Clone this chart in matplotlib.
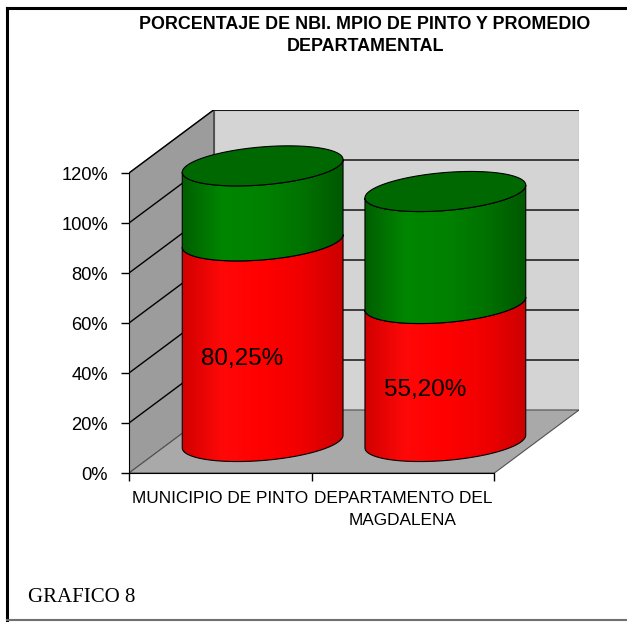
import numpy as np
import matplotlib
matplotlib.use("Agg")
import matplotlib.pyplot as plt
from matplotlib import font_manager
from matplotlib.patches import Polygon
from matplotlib.lines import Line2D
from matplotlib.colors import LinearSegmentedColormap

# ---------------- data ----------------
categories = ["MUNICIPIO DE PINTO", "DEPARTAMENTO DEL\nMAGDALENA"]
nbi_values = [80.25, 55.20]
rest_values = [30.0, 44.8]
value_labels = ["80,25%", "55,20%"]
y_ticks = [0, 20, 40, 60, 80, 100, 120]
y_tick_labels = ["0%", "20%", "40%", "60%", "80%", "100%", "120%"]
title = "PORCENTAJE DE NBI. MPIO DE PINTO Y PROMEDIO\nDEPARTAMENTAL"
footer = "GRAFICO 8"

names = {f.name for f in font_manager.fontManager.ttflist}
if "Liberation Sans Narrow" in names:
    narrow, SC = "Liberation Sans Narrow", 1.0
elif "Arial Narrow" in names:
    narrow, SC = "Arial Narrow", 1.0
else:
    narrow, SC = "Liberation Sans", 0.83
serif = "Liberation Serif" if "Liberation Serif" in names else "DejaVu Serif"

W, H = 627, 622
fig = plt.figure(figsize=(W / 100, H / 100), dpi=100)

# 3D depth offsets (in data units)
DX = 0.463
DY = 25.2
YMAX = 120

ax = fig.add_axes([129 / W, (H - 473) / H, 450 / W, 363 / H])
ax.patch.set_visible(False)

# ---------------- walls ----------------
side = Polygon([(0, 0), (DX, DY), (DX, YMAX + DY), (0, YMAX)],
               closed=True, facecolor="#9c9c9c", edgecolor="#505050",
               lw=0.8, zorder=1)
back = Polygon([(DX, DY), (2 + DX, DY), (2 + DX, YMAX + DY), (DX, YMAX + DY)],
               closed=True, facecolor="#d4d4d4", edgecolor="#505050",
               lw=0.8, zorder=1)
floor = Polygon([(0, 0), (2, 0), (2 + DX, DY), (DX, DY)],
                closed=True, facecolor="#a9a9a9", edgecolor="#505050",
                lw=0.8, zorder=1)
for p in (side, back, floor):
    ax.add_patch(p)

for v in y_ticks[1:]:
    ax.plot([0, DX, 2 + DX], [v, v + DY, v + DY], color="black", lw=1.0,
            zorder=2, solid_capstyle="butt")

# ---------------- cylinders ----------------
A = 0.44      # half width (x units)
B = 7.6       # ellipse half height (y units)
S = 5.8       # tilt slope

red_cmap = LinearSegmentedColormap.from_list(
    "r", ["#d20000", "#ff0808", "#ff0000", "#f00000", "#cc0000"])
green_cmap = LinearSegmentedColormap.from_list(
    "g", ["#005e00", "#008600", "#008200", "#007200", "#005800"])
top_green = "#006800"


def ell(xc, yc, t):
    return xc + A * np.cos(t), yc + B * np.sin(t) + S * A * np.cos(t)


def segment(xc, y0, y1, cmap, z):
    t = np.linspace(np.pi, 2 * np.pi, 120)
    xb, yb = ell(xc, y0, t)
    xt, yt = ell(xc, y1, t[::-1])
    pts = np.column_stack([np.concatenate([xb, xt]), np.concatenate([yb, yt])])
    poly = Polygon(pts, closed=True, facecolor="none", edgecolor="none", zorder=z)
    ax.add_patch(poly)
    grad = np.linspace(0, 1, 256)[None, :]
    im = ax.imshow(grad, extent=[xc - A, xc + A, y0 - B - S * A, y1 + B + S * A],
                   aspect="auto", cmap=cmap, zorder=z, interpolation="bilinear")
    im.set_clip_path(poly)
    ax.add_patch(Polygon(pts, closed=True, fill=False, edgecolor="black",
                         lw=0.8, zorder=z + 0.5))


for i in range(len(categories)):
    xc = i + 0.5 + DX / 2
    base = DY / 2
    y_red = base + nbi_values[i]
    y_top = y_red + rest_values[i]
    segment(xc, base, y_red, red_cmap, 3)
    segment(xc, y_red, y_top, green_cmap, 4)
    t = np.linspace(0, 2 * np.pi, 200)
    ex, ey = ell(xc, y_top, t)
    ax.add_patch(Polygon(np.column_stack([ex, ey]), closed=True,
                         facecolor=top_green, edgecolor="black", lw=0.8,
                         zorder=5))
    ax.text(xc - 0.11, base + nbi_values[i] / 2 - 7, value_labels[i],
            ha="center", va="center", fontsize=21 * SC, family=narrow,
            color="black", zorder=6)

# ---------------- axes ----------------
ax.set_xlim(0, 2 + DX)
ax.set_ylim(0, YMAX + DY)
for sp in ("top", "right"):
    ax.spines[sp].set_visible(False)
ax.spines["left"].set_bounds(0, YMAX)
ax.spines["bottom"].set_bounds(0, 2)
ax.spines["left"].set_zorder(7)
ax.spines["bottom"].set_zorder(7)

ax.set_yticks(y_ticks)
ax.set_yticklabels(y_tick_labels, family=narrow, fontsize=16 * SC)
ax.tick_params(axis="y", length=6, width=1, pad=9, direction="out")

ax.set_xticks([0, 1, 2])
ax.set_xticklabels([])
ax.set_xticks([0.5, 1.5], minor=True)
ax.set_xticklabels(categories, minor=True, family=narrow, fontsize=15 * SC,
                   linespacing=1.6)
ax.tick_params(axis="x", which="minor", length=0, pad=13)
ax.tick_params(axis="x", which="major", length=6, width=1, direction="out")

# ---------------- texts ----------------
fig.text(365 / W, 1 - 16 / H, title, ha="center", va="top", fontsize=15.5 * SC,
         fontweight="bold", family=narrow, linespacing=1.4)
fig.text(28 / W, 1 - 597 / H, footer, ha="left", va="center", fontsize=15,
         family=serif)

# ---------------- frame ----------------
fig.add_artist(Line2D([7 / W, 7 / W], [1 - 8 / H, 1 - 620 / H],
                      transform=fig.transFigure, color="black", lw=2.2))
fig.add_artist(Line2D([7 / W, 1.0], [1 - 8 / H, 1 - 8 / H],
                      transform=fig.transFigure, color="black", lw=2.2))
fig.add_artist(Line2D([7 / W, 1.0], [1 - 620 / H, 1 - 620 / H],
                      transform=fig.transFigure, color="#707070", lw=1.5))

fig.savefig("out.png", dpi=100)
